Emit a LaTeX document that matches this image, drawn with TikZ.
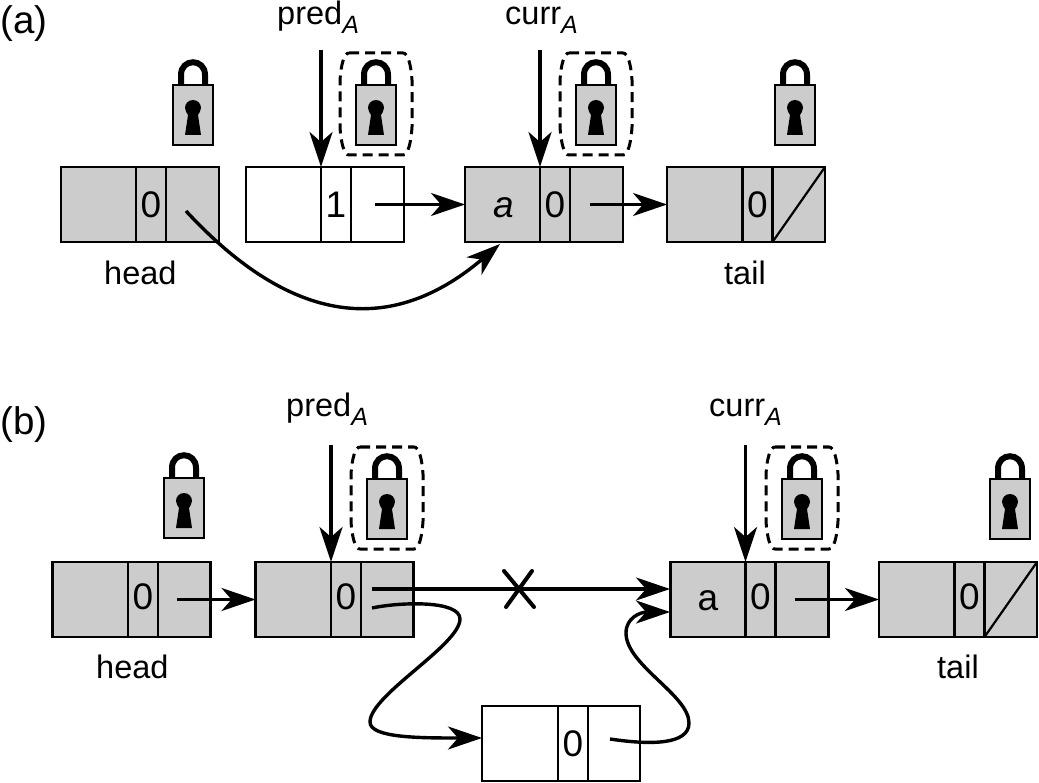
\documentclass[tikz,border=0pt]{standalone}
\usepackage{fontspec}
\setmainfont{Liberation Sans}
\usetikzlibrary{arrows.meta,calc}
\definecolor{lockgrey}{HTML}{CCCCCC}
\newcommand\lowA{\raisebox{-8.5pt}{\fontsize{25}{25}\selectfont\itshape A}}
\tikzset{
  outerbox/.style={draw,line width=2.2pt,minimum width=158pt,minimum height=75pt,inner sep=0pt,outer sep=0pt},
  fullbox/.style={outerbox,fill=lockgrey},
  emptybox/.style={outerbox,fill=white},
  midcell/.style={draw,line width=2.2pt,minimum width=30pt,minimum height=75pt,inner sep=0pt,outer sep=0pt},
  digit/.style={inner sep=0pt,font=\fontsize{37}{37}\selectfont},
  cellword/.style={inner sep=0pt,anchor=base,font=\fontsize{37}{37}\selectfont},
  txt/.style={inner sep=0pt,anchor=base west,font=\fontsize{32.5}{33}\selectfont},
  paneltxt/.style={inner sep=0pt,anchor=base west,font=\fontsize{38.5}{39}\selectfont},
  link/.style={line width=3.4pt,-{Stealth[length=34pt,width=23pt,inset=10pt]}},
  ptr/.style={line width=3.4pt,-{Stealth[length=35pt,width=23pt,inset=10pt]}},
  lockbody/.style={draw,fill=lockgrey,line width=2.2pt,minimum width=40pt,minimum height=60pt,inner sep=0pt,outer sep=0pt},
  dashring/.style={draw,dash pattern=on 10pt off 6pt,line width=3pt},
  pics/padlock/.style={code={
    \draw[line width=6pt] (-12,-30) -- (-12,-40) .. controls (-12,-57) and (12,-57) .. (12,-40) -- (12,-30);
    \node[lockbody] (-body) at (0,0) {};
    \fill (-5,0) .. controls (-6,-2) and (-8,-4) .. (-8,-7) .. controls (-8,-11) and (-5,-15) .. (0,-15) .. controls (5,-15) and (8,-11) .. (8,-7) .. controls (8,-4) and (6,-2) .. (5,0) -- (8,20) -- (-8,20) -- (-5,0) -- cycle;
  }},
  pics/guarded/.style={code={
    \draw[dashring] (-27,-62) -- (27,-62) .. controls (32,-62) and (35,-50) .. (36,-35) -- (36,12) .. controls (35,28) and (32,40) .. (27,40) -- (-27,40) .. controls (-32,40) and (-35,28) .. (-36,12) -- (-36,-35) .. controls (-35,-50) and (-32,-62) .. (-27,-62) -- cycle;
    \pic (-lock) at (0,0) {padlock};
  }}
}
\begin{document}
\begin{tikzpicture}[x=1pt,y=-1pt]
\useasboundingbox (0,0) rectangle (1039,783);
% panel labels
\node[paneltxt] (pa) at (0,34) {(a)};
\node[paneltxt] (pb) at (0,435) {(b)};
% ---------- panel (a)
\node[fullbox] (a1) at (140,204.5) {};
\node[midcell] (a1m) at (151,204.5) {};
\node[digit] (a1d) at (a1m) {0};
\node[emptybox] (a2) at (325,204.5) {};
\node[midcell] (a2m) at (336,204.5) {};
\node[digit] (a2d) at (a2m) {1};
\node[fullbox] (a3) at (544,204.5) {};
\node[midcell] (a3m) at (555,204.5) {};
\node[digit] (a3d) at (a3m) {0};
\node[cellword] (a3v) at (504,218) {\itshape a};
\node[fullbox] (a4) at (746,204.5) {};
\node[midcell] (a4m) at (757.5,204.5) {};
\node[digit] (a4d) at (a4m) {0};
\draw[line width=2.2pt] (a4m.south east) -- (a4.north east);
\node[txt] (ah) at (104,285) {head};
\node[txt] (at) at (724,285) {tail};
\node[txt] (ap) at (277,25) {pred\lowA};
\node[txt] (ac) at (505,25) {curr\lowA};
\pic (l1) at (193,115) {padlock};
\pic (l2) at (376,115) {guarded};
\pic (l3) at (596,115) {guarded};
\pic (l4) at (795,115) {padlock};
\coordinate (apf) at (a2m.north west |- 0,50);
\coordinate (acf) at (a3m.north west |- 0,50);
\draw[ptr] (apf) -- (a2m.north west);
\draw[ptr] (acf) -- (a3m.north west);
\coordinate (a1o) at (186,211);
\coordinate (a2o) at (375,204.5);
\coordinate (a3o) at (590,204.5);
\coordinate (a3in) at (500,244);
\draw[link] (a2o) -- (a3.west);
\draw[link] (a3o) -- (a4.west);
\draw[link] (a1o) .. controls (285,318) and (385,342) .. (a3in);
% ---------- panel (b)
\node[fullbox] (b1) at (131.5,599.5) {};
\node[midcell] (b1m) at (143,599.5) {};
\node[digit,yshift=3pt] (b1d) at (b1m) {0};
\node[fullbox] (b2) at (334.5,599.5) {};
\node[midcell] (b2m) at (346,599.5) {};
\node[digit,yshift=3pt] (b2d) at (b2m) {0};
\node[fullbox] (b3) at (749.5,599.5) {};
\node[midcell] (b3m) at (760.5,599.5) {};
\node[digit,yshift=3pt] (b3d) at (b3m) {0};
\node[cellword] (b3v) at (708,610) {a};
\node[fullbox] (b4) at (958,599.5) {};
\node[midcell] (b4m) at (969.5,599.5) {};
\node[digit,yshift=3pt] (b4d) at (b4m) {0};
\draw[line width=2.2pt] (b4m.south east) -- (b4.north east);
\node[emptybox] (b5) at (561,743.5) {};
\node[midcell] (b5m) at (573,743.5) {};
\node[digit] (b5d) at (b5m) {0};
\node[txt] (bh) at (96,678) {head};
\node[txt] (bt) at (937,678) {tail};
\node[txt] (bp) at (286,417) {pred\lowA};
\node[txt] (bc) at (709,417) {curr\lowA};
\pic (m1) at (184,508) {padlock};
\pic (m2) at (387,509) {guarded};
\pic (m3) at (802,509) {guarded};
\pic (m4) at (1010,509) {padlock};
\coordinate (bpf) at (b2m.north west |- 0,445);
\coordinate (bcf) at (b3m.north west |- 0,445);
\draw[ptr] (bpf) -- (b2m.north west);
\draw[ptr] (bcf) -- (b3m.north west);
\coordinate (b1o) at (177,599.5);
\coordinate (b3o) at (795,599.5);
\coordinate (b2o) at (372,589);
\coordinate (b3in) at (670,589);
\coordinate (b2p) at (372,608);
\coordinate (b3q) at (670,612);
\coordinate (b5o) at (610,739);
\coordinate (b5in) at (482,738);
\draw[link] (b1o) -- (b2.west);
\draw[link] (b3o) -- (b4.west);
\draw[link] (b2o) -- (b3in);
\draw[link] (b2p) .. controls (400,602) and (460,600) .. (460,619) .. controls (460,645) and (370,695) .. (370,722) .. controls (370,738) and (420,738) .. (b5in);
\draw[link] (b5o) .. controls (650,745) and (689,745) .. (689,723) .. controls (689,695) and (626,665) .. (626,633) .. controls (626,618) and (640,612) .. (b3q);
% cross on the removed link
\coordinate (x1) at (504,571);
\coordinate (x2) at (534,607);
\coordinate (x3) at (532,571);
\coordinate (x4) at (506,607);
\draw[line width=4pt,line cap=round] (x1) -- (x2) (x3) -- (x4);
\end{tikzpicture}
\end{document}
